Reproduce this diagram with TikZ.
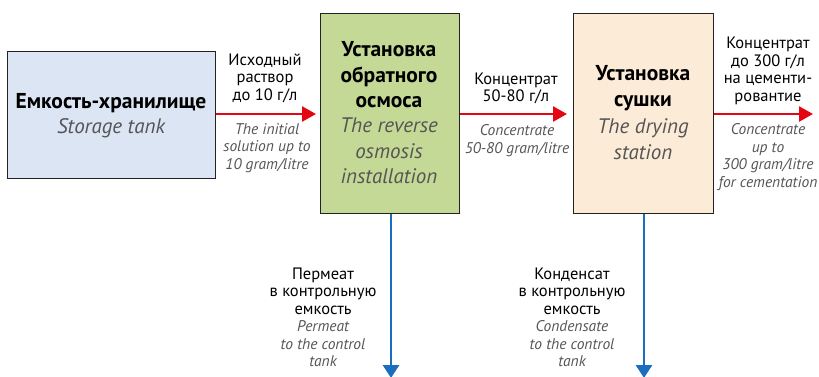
\documentclass[tikz,border=0pt]{standalone}
\usepackage{fontspec}
\setmainfont{PT Sans}
\usetikzlibrary{arrows.meta}
\definecolor{boxblue}{HTML}{DCE5F3}
\definecolor{boxgreen}{HTML}{C4D995}
\definecolor{boxcream}{HTML}{FCEBD7}
\definecolor{redflow}{HTML}{E30613}
\definecolor{blueflow}{HTML}{1B6EBE}
\definecolor{engrey}{HTML}{555555}
\definecolor{edge}{HTML}{222222}
\tikzset{
  x=1pt,y=-1pt,
  unit/.style={draw=edge,line width=1pt,inner sep=0pt},
  ru/.style={font=\fontsize{21.5}{25.5}\selectfont\bfseries,align=center},
  en/.style={font=\fontsize{21}{25.5}\selectfont\itshape,text=engrey},
  lab/.style={font=\fontsize{16.5}{17.5}\selectfont,align=center,inner sep=0pt},
  labit/.style={font=\fontsize{15.5}{17.5}\selectfont\itshape,text=engrey,align=center,inner sep=0pt},
  redarrow/.style={draw=redflow,line width=2.6pt,-{Triangle[length=14pt,width=15pt]}},
  bluearrow/.style={draw=blueflow,line width=2.8pt,-{Triangle[length=13pt,width=16pt]}},
}
\begin{document}
\begin{tikzpicture}
\useasboundingbox (0,0) rectangle (819,376);
% boxes
\node[unit,fill=boxblue,minimum width=208pt,minimum height=127pt,anchor=north west] (tank) at (7,51) {};
\node[unit,fill=boxgreen,minimum width=139pt,minimum height=200pt,anchor=north west] (ro) at (320,13) {};
\node[unit,fill=boxcream,minimum width=140pt,minimum height=200pt,anchor=north west] (dry) at (573,13) {};
% box texts
\node[ru] (t1) at (111,103) {Емкость-хранилище};
\node[en] (t2) at (111,128) {Storage tank};
\node[ru] (r1) at (389,75) {Установка\\обратного\\осмоса};
\node[en,align=center] (r2) at (389,151) {The reverse\\osmosis\\installation};
\node[ru] (d1) at (643,88) {Установка\\сушки};
\node[en,align=center] (d2) at (643,139) {The drying\\station};
% horizontal flows
\coordinate (a1) at (316,114);
\coordinate (a2) at (567,114);
\coordinate (a3) at (813,114);
\draw[redarrow] (tank.east |- a1) -- (a1);
\draw[redarrow] (ro.east |- a2) -- (a2);
\draw[redarrow] (dry.east |- a3) -- (a3);
% vertical flows
\coordinate (b1) at (391,378);
\coordinate (b2) at (644,378);
\draw[bluearrow] (ro.south -| b1) -- (b1);
\draw[bluearrow] (dry.south -| b2) -- (b2);
% flow labels
\node[lab] (l1) at (265,78) {Исходный\\раствор\\до 10 г/л};
\node[labit] (l1e) at (267,148) {The initial\\solution up to\\10 gram/litre};
\node[lab] (l2) at (516,88.5) {Концентрат\\50-80 г/л};
\node[labit] (l2e) at (517,140.5) {Concentrate\\50-80 gram/litre};
\node[lab] (l3) at (768,71) {Концентрат\\до 300 г/л\\на цементи-\\ровантие};
\node[labit] (l3e) at (768,157) {Concentrate\\up to\\300 gram/litre\\for cementation};
\node[lab] (l4) at (323,291) {Пермеат\\в контрольную\\емкость};
\node[labit] (l4e) at (323,344) {Permeat\\to the control\\tank};
\node[lab] (l5) at (572,291) {Конденсат\\в контрольную\\емкость};
\node[labit] (l5e) at (572,344) {Condensate\\to the control\\tank};
\end{tikzpicture}
\end{document}
